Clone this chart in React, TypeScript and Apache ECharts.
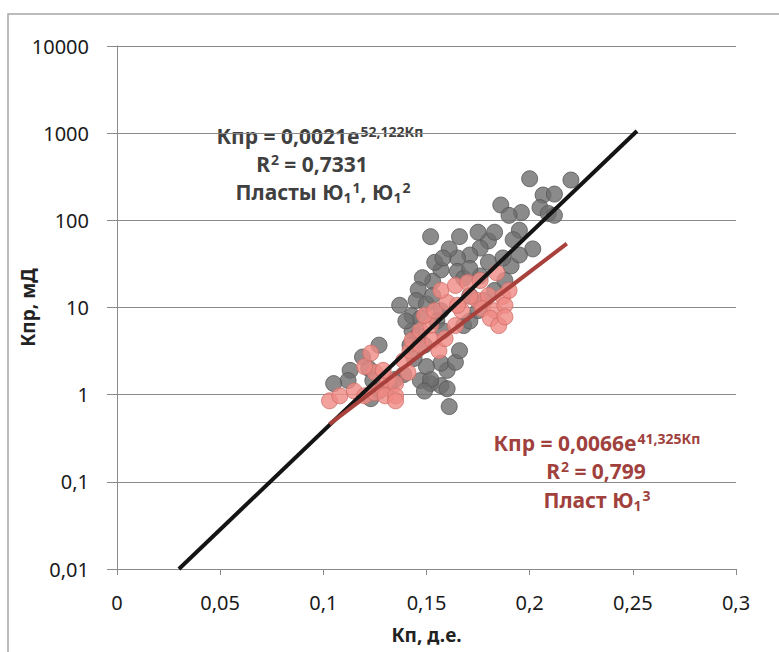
import React, { useEffect, useRef } from "react";
import * as echarts from "echarts";

// Пласты Ю1^1, Ю1^2 (grey points): [Кп, Кпр]
const grayPoints: [number, number][] = [
  [0.2, 300], [0.22, 290], [0.2065, 195], [0.212, 200], [0.205, 140], [0.209, 120], [0.212, 114],
  [0.186, 150], [0.196, 123], [0.19, 114], [0.195, 77], [0.2015, 47], [0.192, 60], [0.18, 58],
  [0.183, 73], [0.175, 73], [0.176, 48], [0.171, 40], [0.166, 65], [0.165, 37], [0.161, 47],
  [0.152, 65], [0.165, 26], [0.157, 27], [0.153, 20], [0.148, 22], [0.146, 16], [0.145, 12],
  [0.15, 11], [0.137, 10.6], [0.143, 8], [0.147, 7.5], [0.143, 5.4], [0.146, 4.8], [0.142, 3.7],
  [0.149, 3.7], [0.127, 3.7], [0.119, 2.7], [0.122, 2], [0.113, 1.9], [0.112, 1.45], [0.105, 1.34],
  [0.124, 1.45], [0.127, 1.1], [0.123, 0.9], [0.135, 1.5], [0.147, 1.45], [0.152, 1.34],
  [0.157, 1.27], [0.16, 1.9], [0.157, 2.3], [0.164, 2.35], [0.166, 3.2], [0.16, 1.17], [0.161, 0.73],
  [0.152, 1.5], [0.149, 1.1], [0.168, 6.2], [0.171, 7], [0.175, 9.2], [0.178, 12], [0.183, 15.7],
  [0.188, 20.4], [0.191, 30], [0.195, 40], [0.187, 37], [0.18, 33], [0.176, 23], [0.171, 13.7],
  [0.153, 13.7], [0.157, 9.2], [0.155, 7], [0.158, 5.4], [0.14, 7], [0.154, 33], [0.158, 37],
  [0.168, 21.6], [0.171, 28], [0.144, 2.6], [0.15, 2.1], [0.139, 1.7], [0.132, 1.3],
];

// Пласт Ю1^3 (pink points): [Кп, Кпр]
const pinkPoints: [number, number][] = [
  [0.103, 0.85], [0.108, 0.97], [0.115, 1.1], [0.12, 0.97], [0.125, 1.05], [0.129, 1.17],
  [0.131, 1.5], [0.135, 1.34], [0.13, 0.97], [0.135, 0.97], [0.125, 1.8], [0.12, 2.1],
  [0.123, 3.0], [0.139, 2.46], [0.142, 3.2], [0.143, 4.2], [0.147, 5.4], [0.152, 6.2],
  [0.149, 8.1], [0.154, 9.2], [0.16, 11.4], [0.157, 15.7], [0.164, 17.9], [0.17, 19.4],
  [0.175, 12], [0.18, 13.7], [0.177, 9.7], [0.183, 9.2], [0.181, 7.5], [0.176, 20.4],
  [0.184, 25], [0.187, 13.4], [0.188, 10.6], [0.185, 6.2], [0.147, 3.7], [0.153, 4.2],
  [0.156, 3.2], [0.159, 4.4], [0.164, 6.2], [0.167, 9.2], [0.165, 10.6], [0.135, 0.85],
  [0.141, 1.8], [0.129, 1.9], [0.188, 7.8], [0.19, 15.7], [0.171, 13.4],
];

// Trend line end points
const blackTrend: [number, number][] = [[0.03, 0.01], [0.252, 1060]];
const redTrend: [number, number][] = [[0.103, 0.46], [0.218, 54]];

const xTicks = [0, 0.05, 0.1, 0.15, 0.2, 0.25, 0.3];

const FONT = "'Noto Sans', 'DejaVu Sans', sans-serif";

export default function App() {
  const ref = useRef<HTMLDivElement>(null);
  useEffect(() => {
    if (!ref.current) return;
    const chart = echarts.init(ref.current, null, { renderer: "svg" });
    const fmt = (v: number) => String(v).replace(".", ",");
    const mkRich = (fill: string) => ({
      b: { fontFamily: FONT, fontWeight: "bold", fontSize: 21, fill, lineHeight: 24, verticalAlign: "middle" },
      sup: { fontFamily: FONT, fontWeight: "bold", fontSize: 14, fill, lineHeight: 24, verticalAlign: "top", padding: [0, 0, 0, 1] },
      sub: { fontFamily: FONT, fontWeight: "bold", fontSize: 14, fill, lineHeight: 24, verticalAlign: "bottom" },
    });
    const darkRich = mkRich("#404040");
    const redRich = mkRich("#a0413d");
    const txt = (x: number, y: number, text: string, rich: any) => ({
      type: "text",
      x,
      y,
      style: { text, rich, align: "center", verticalAlign: "middle", fontFamily: FONT, fontWeight: "bold", fontSize: 21 },
    });
    chart.setOption({
      animation: false,
      backgroundColor: "#ffffff",
      grid: { left: 117, right: 43, top: 46, bottom: 83, containLabel: false },
      xAxis: {
        type: "value",
        min: 0,
        max: 0.3,
        interval: 0.05,
        name: "Кп, д.е.",
        nameLocation: "middle",
        nameGap: 56,
        nameMoveOverlap: false,
        nameTextStyle: { fontFamily: FONT, fontWeight: "bold", fontSize: 19, color: "#222" },
        axisLine: { show: true, onZero: false, lineStyle: { color: "#8a8a8a", width: 1 } },
        axisTick: { show: true, length: 6, lineStyle: { color: "#8a8a8a" } },
        axisLabel: {
          margin: 23,
          fontFamily: FONT,
          fontSize: 20,
          color: "#1a1a1a",
          formatter: (v: number) => (xTicks.includes(Math.round(v * 100) / 100) ? fmt(Math.round(v * 100) / 100) : ""),
        },
        splitLine: { show: false },
      },
      yAxis: {
        type: "log",
        logBase: 10,
        min: 0.01,
        max: 10000,
        name: "Кпр, мД",
        nameLocation: "middle",
        nameGap: 80,
        nameMoveOverlap: false,
        nameRotate: 90,
        nameTextStyle: { fontFamily: FONT, fontWeight: "bold", fontSize: 19, color: "#222" },
        axisLine: { show: true, lineStyle: { color: "#8a8a8a", width: 1 } },
        axisTick: { show: true, length: 10, lineStyle: { color: "#8a8a8a" } },
        axisLabel: {
          margin: 28,
          fontFamily: FONT,
          fontSize: 20,
          color: "#1a1a1a",
          formatter: (v: number) => fmt(v),
        },
        splitLine: { show: true, lineStyle: { color: "#8a8a8a", width: 1 } },
      },
      series: [
        {
          type: "scatter",
          data: grayPoints,
          symbolSize: 16,
          itemStyle: { color: "#6e6e6e", borderColor: "#565656", borderWidth: 1 },
          z: 2,
        },
        {
          type: "scatter",
          data: pinkPoints,
          symbolSize: 16,
          itemStyle: { color: "#ef8a84", borderColor: "#d06e68", borderWidth: 1 },
          z: 3,
        },
        {
          type: "line",
          data: blackTrend,
          showSymbol: false,
          lineStyle: { color: "#141414", width: 4 },
          z: 4,
        },
        {
          type: "line",
          data: redTrend,
          showSymbol: false,
          lineStyle: { color: "#a8403b", width: 4 },
          z: 5,
        },
      ],
      graphic: [
        {
          type: "rect",
          shape: { x: 8, y: 14, width: 900, height: 800 },
          style: { fill: "none", stroke: "#a6a6a6", lineWidth: 1.5 },
          silent: true,
        },
        {
          type: "rect",
          shape: { x: 194, y: 120, width: 250, height: 88 },
          style: { fill: "#ffffff" },
          silent: true,
        },
        txt(320, 136, "{b|Кпр = 0,0021e}{sup|52,122Кп}", darkRich),
        txt(312, 164, "{b|R}{sup|2}{b| = 0,7331}", darkRich),
        txt(323, 192, "{b|Пласты Ю}{sub|1}{sup|1}{b|, Ю}{sub|1}{sup|2}", darkRich),
        {
          type: "rect",
          shape: { x: 470, y: 428, width: 256, height: 86 },
          style: { fill: "#ffffff" },
          silent: true,
        },
        txt(597, 443, "{b|Кпр = 0,0066e}{sup|41,325Кп}", redRich),
        txt(596, 471, "{b|R}{sup|2}{b| = 0,799}", redRich),
        txt(597, 500, "{b|Пласт Ю}{sub|1}{sup|3}", redRich),
      ],
    });
    return () => chart.dispose();
  }, []);
  return (
    <div
      ref={ref}
      style={{ position: "absolute", left: 0, top: 0, width: 779, height: 652 }}
    />
  );
}
